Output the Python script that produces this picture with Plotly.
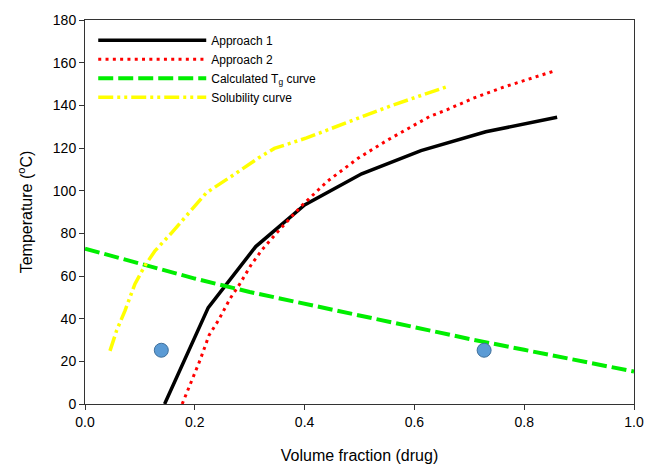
import plotly.graph_objects as go

# Approach 1 (black solid)
a1_x = [0.145, 0.2245, 0.311, 0.400, 0.504, 0.612, 0.730, 0.860]
a1_y = [0.0, 45.2, 73.8, 93.3, 107.9, 118.8, 127.6, 134.4]

# Approach 2 (red dotted)
a2_x = [0.177, 0.193, 0.2095, 0.2259, 0.243, 0.264, 0.282, 0.3035, 0.3235, 0.346,
        0.394, 0.442, 0.498, 0.549, 0.589, 0.628, 0.659, 0.707, 0.762, 0.8135, 0.856]
a2_y = [0.0, 10.4, 20.5, 32.2, 39.2, 49.3, 56.3, 65.6, 72.6, 79.3,
        92.8, 104.5, 115.3, 123.4, 129.3, 134.8, 137.9, 143.3, 148.5, 152.7, 156.2]

# Calculated Tg curve (green dashed)
tg_x = [0.0, 0.1, 0.2, 0.3, 0.4, 0.5, 0.6, 0.7, 0.8, 0.9, 1.0]
tg_y = [72.8, 65.7, 58.8, 52.5, 46.9, 41.3, 35.8, 30.5, 25.4, 20.4, 15.2]

# Solubility curve (yellow dash-dot-dot)
sol_x = [0.0455, 0.0577, 0.0729, 0.091, 0.109, 0.1275, 0.1566, 0.221, 0.2765,
         0.3157, 0.345, 0.4037, 0.4827, 0.5616, 0.660]
sol_y = [24.9, 34.5, 43.8, 56.3, 64.8, 71.8, 79.9, 99.0, 108.4,
         115.3, 119.8, 124.7, 132.5, 140.2, 148.8]

# Experimental points (blue circles)
pt_x = [0.139, 0.727]
pt_y = [25.2, 25.2]

x_ticks = [0.0, 0.2, 0.4, 0.6, 0.8, 1.0]
x_tick_labels = ["0.0", "0.2", "0.4", "0.6", "0.8", "1.0"]
y_ticks = [0, 20, 40, 60, 80, 100, 120, 140, 160, 180]

fig = go.Figure()
fig.add_trace(go.Scatter(x=a1_x, y=a1_y, mode="lines", name="Approach 1",
                         line=dict(color="black", width=3.5)))
fig.add_trace(go.Scatter(x=a2_x, y=a2_y, mode="lines", name="Approach 2",
                         line=dict(color="#ff0000", width=3, dash="3px,4.3px")))
fig.add_trace(go.Scatter(x=tg_x, y=tg_y, mode="lines", name="Calculated T<sub>g</sub> curve",
                         line=dict(color="#00ee00", width=4, dash="15px,5px")))
fig.add_trace(go.Scatter(x=sol_x, y=sol_y, mode="lines", name="Solubility curve",
                         line=dict(color="#ffff00", width=3.5, dash="15px,4px,3px,4px,3px,4px")))
fig.add_trace(go.Scatter(x=pt_x, y=pt_y, mode="markers", showlegend=False,
                         marker=dict(size=14, color="#5b9bd5",
                                     line=dict(color="#41719c", width=1))))

axis_common = dict(showline=True, linecolor="#333333", linewidth=1, mirror=True,
                   ticks="outside", ticklen=5, tickcolor="#333333", showgrid=False,
                   zeroline=False, automargin=False,
                   tickfont=dict(size=14, color="black"))

fig.update_layout(
    width=646, height=467,
    margin=dict(l=85, r=12, t=20, b=63),
    plot_bgcolor="white", paper_bgcolor="white",
    font=dict(family="Liberation Sans, Arial, sans-serif", color="black"),
    xaxis=dict(range=[0, 1], tickvals=x_ticks, ticktext=x_tick_labels,
               title=dict(text="Volume fraction (drug)", font=dict(size=16), standoff=21),
               **axis_common),
    yaxis=dict(range=[0, 180], tickvals=y_ticks,
               title=dict(text="Temperature (<sup>o</sup>C)", font=dict(size=16), standoff=16),
               **axis_common),
    legend=dict(x=0.015, y=0.985, xanchor="left", yanchor="top",
                bgcolor="rgba(0,0,0,0)", font=dict(size=12),
                itemwidth=108, tracegroupgap=0),
)

fig.write_html("out.html", default_width="646px", default_height="467px",
               config={"displayModeBar": False},
               post_script="document.body.style.margin='0';document.body.style.overflow='hidden';")
